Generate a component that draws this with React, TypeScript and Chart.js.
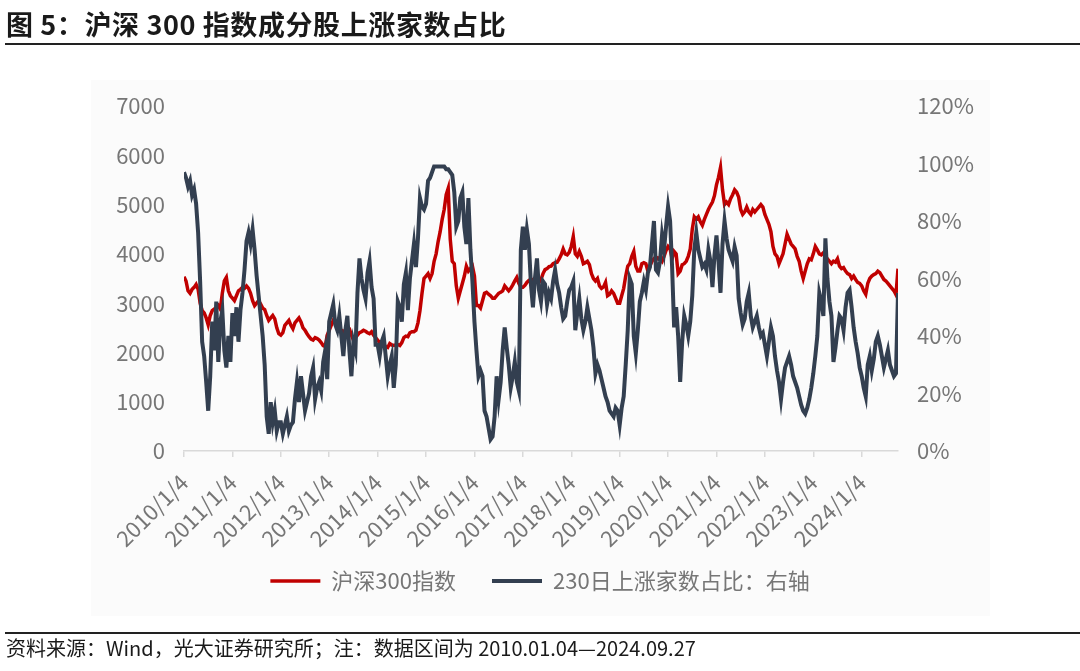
import React, { useEffect, useRef } from 'react';
import { Chart, registerables } from 'chart.js';

Chart.register(...registerables);

// ---- data (semi-monthly readings, 2010/01 → 2024/09) ----
const startYear = 2010;
const periodsPerYear = 24;
const xMax = 2024.75;

const yearTicks = [2010, 2011, 2012, 2013, 2014, 2015, 2016, 2017, 2018, 2019, 2020, 2021, 2022, 2023, 2024];
const xTickLabels = ['2010/1/4', '2011/1/4', '2012/1/4', '2013/1/4', '2014/1/4', '2015/1/4', '2016/1/4', '2017/1/4', '2018/1/4', '2019/1/4', '2020/1/4', '2021/1/4', '2022/1/4', '2023/1/4', '2024/1/4'];
const leftTicks = [0, 1000, 2000, 3000, 4000, 5000, 6000, 7000];
const rightTicks = [0, 20, 40, 60, 80, 100, 120];
const rightTickLabels = ['0%', '20%', '40%', '60%', '80%', '100%', '120%'];

const seriesNames = ['沪深300指数', '230日上涨家数占比：右轴'];

// 沪深300指数 (left axis)
const hs300 = [
  3535, 3450, 3250, 3200, 3280, 3320, 3380, 3280, 3000, 2850, 2800, 2700, 2560, 2750, 2850, 2880, 2900, 2950, 2880, 3200, 3450, 3520, 3250, 3150,
  3100, 3050, 3150, 3250, 3280, 3320, 3300, 3350, 3300, 3200, 3050, 2950, 3000, 3050, 2980, 2900, 2870, 2750, 2650, 2700, 2750, 2680, 2500, 2380,
  2350, 2400, 2550, 2600, 2650, 2550, 2480, 2600, 2650, 2700, 2620, 2500, 2450, 2380, 2320, 2270, 2250, 2300, 2280, 2250, 2200, 2140, 2120, 2350,
  2450, 2550, 2650, 2600, 2550, 2500, 2450, 2420, 2450, 2500, 2480, 2350, 2250, 2300, 2350, 2400, 2420, 2450, 2430, 2400, 2380, 2420, 2350, 2300,
  2250, 2200, 2180, 2150, 2120, 2100, 2180, 2150, 2140, 2150, 2160, 2140, 2200, 2300, 2330, 2320, 2400, 2420, 2420, 2450, 2600, 2850, 3200, 3500,
  3550, 3600, 3500, 3600, 3850, 4000, 4250, 4450, 4700, 4900, 5200, 5330, 4300, 3850, 3800, 3350, 3100, 3250, 3400, 3550, 3750, 3650, 3700, 3750,
  3550, 2950, 2950, 2900, 3050, 3200, 3220, 3180, 3150, 3100, 3100, 3150, 3200, 3220, 3250, 3350, 3300, 3250, 3300, 3370, 3450, 3520, 3400, 3320,
  3320, 3360, 3420, 3460, 3450, 3480, 3500, 3460, 3420, 3480, 3600, 3680, 3700, 3740, 3750, 3800, 3820, 3830, 3900, 3980, 4100, 4000, 3980, 4030,
  4150, 4350, 4000, 3950, 4050, 3950, 3800, 3820, 3850, 3780, 3600, 3500, 3450, 3500, 3350, 3300, 3330, 3420, 3150, 3180, 3250, 3200, 3100, 3000,
  3000, 3150, 3300, 3550, 3750, 3800, 3950, 4050, 3750, 3650, 3650, 3800, 3820, 3800, 3650, 3750, 3850, 3900, 3880, 3920, 3900, 3850, 3950, 4070,
  4150, 4100, 3900, 4050, 4000, 3600, 3650, 3780, 3800, 3850, 3950, 4100, 4500, 4750, 4700, 4750, 4650, 4580, 4700, 4800, 4900, 4980, 5050, 5180,
  5400, 5550, 5750, 5300, 5000, 5050, 5000, 5120, 5200, 5300, 5250, 5150, 4900, 4800, 4850, 4950, 4850, 4800, 4900, 4850, 4900, 4950, 5000, 4950,
  4800, 4700, 4600, 4450, 4150, 4000, 3950, 3800, 3900, 4000, 4200, 4400, 4300, 4200, 4150, 4100, 3950, 3850, 3650, 3500, 3650, 3800, 3900, 3880,
  4000, 4150, 4080, 4000, 3980, 4020, 3950, 3900, 3850, 3800, 3850, 3830, 3900, 3750, 3700, 3720, 3650, 3600, 3580, 3500, 3550, 3480, 3420, 3400,
  3350, 3250, 3180, 3400, 3500, 3550, 3580, 3600, 3650, 3620, 3550, 3480, 3450, 3400, 3350, 3300, 3250, 3170, 3700,
];

// 230日上涨家数占比 (right axis, %)
const upRatio = [
  97, 95, 92, 94, 89, 91, 86, 76, 59, 38, 33, 24, 14, 26, 45, 35, 52, 31, 45, 49, 35, 29, 40, 31,
  48, 40, 50, 38, 49, 55, 63, 73, 76, 72, 77, 70, 61, 54, 47, 40, 30, 12, 6, 17, 10, 14, 7, 10,
  10, 6, 9, 12, 7, 9, 10, 18, 24, 17, 26, 20, 14, 17, 20, 26, 29, 18, 22, 24, 21, 31, 35, 25,
  45, 48, 51, 44, 42, 47, 40, 33, 42, 47, 35, 26, 38, 35, 55, 67, 60, 56, 53, 62, 66, 57, 53, 37,
  37, 33, 38, 40, 33, 26, 30, 33, 22, 30, 52, 50, 45, 58, 62, 49, 60, 66, 72, 64, 74, 88, 85, 84,
  86, 94, 95, 97, 99, 99, 99, 99, 99, 99, 98, 98, 97, 96, 90, 78, 80, 88, 90, 78, 72, 88, 70, 59,
  45, 35, 26, 28, 26, 14, 12, 8, 4, 5, 12, 26, 18, 24, 35, 43, 36, 30, 22, 26, 31, 24, 21, 70,
  78, 70, 77, 72, 58, 50, 60, 67, 56, 52, 59, 58, 51, 55, 53, 59, 63, 58, 55, 50, 46, 47, 52, 56,
  57, 59, 42, 48, 53, 46, 42, 45, 50, 46, 42, 36, 27, 30, 28, 25, 22, 19, 17, 14, 13, 12, 15, 14,
  9, 15, 19, 30, 42, 60, 58, 40, 34, 42, 52, 55, 59, 56, 62, 64, 72, 80, 63, 62, 66, 75, 70, 78,
  85, 80, 64, 43, 50, 40, 24, 38, 47, 44, 40, 45, 54, 70, 76, 70, 67, 64, 65, 63, 70, 66, 57, 68,
  75, 66, 55, 72, 80, 74, 70, 68, 66, 71, 68, 53, 48, 44, 46, 52, 55, 47, 43, 45, 47, 43, 40, 41,
  37, 33, 38, 43, 40, 33, 28, 24, 18, 24, 29, 31, 33, 30, 26, 24, 22, 19, 16, 14, 13, 15, 18, 22,
  27, 33, 40, 55, 52, 47, 74, 60, 52, 47, 31, 36, 42, 47, 46, 42, 50, 55, 56, 50, 43, 38, 34, 29,
  26, 22, 19, 30, 33, 28, 32, 38, 40, 37, 33, 29, 32, 35, 30, 28, 26, 27, 55,
];

const RED = '#C00000';
const NAVY = '#333F50';
const GRAY = '#767676';
const FONT = "'Noto Sans CJK SC', 'Noto Sans', sans-serif";

export default function App() {
  const canvasRef = useRef<HTMLCanvasElement>(null);

  useEffect(() => {
    const canvas = canvasRef.current;
    if (!canvas) return;
    const tickFont = { family: FONT, size: 22 };
    const toPoints = (arr: number[]) => arr.map((v, i) => ({ x: startYear + i / periodsPerYear, y: v }));

    const chart = new Chart(canvas, {
      type: 'line',
      data: {
        datasets: [
          {
            label: seriesNames[0],
            data: toPoints(hs300),
            borderColor: RED,
            backgroundColor: RED,
            borderWidth: 3.5,
            pointRadius: 0,
            pointHoverRadius: 0,
            pointStyle: 'line',
            pointBorderColor: RED,
            pointBorderWidth: 3.5,
            tension: 0,
            yAxisID: 'y',
            order: 1,
          },
          {
            label: seriesNames[1],
            data: toPoints(upRatio),
            borderColor: NAVY,
            backgroundColor: NAVY,
            borderWidth: 4,
            pointRadius: 0,
            pointHoverRadius: 0,
            pointStyle: 'line',
            pointBorderColor: NAVY,
            pointBorderWidth: 4,
            tension: 0,
            yAxisID: 'y1',
            order: 0,
          },
        ],
      },
      options: {
        animation: false,
        responsive: false,
        maintainAspectRatio: false,
        layout: { padding: { top: 106, bottom: 69, left: 0, right: 0 } },
        plugins: {
          legend: {
            position: 'bottom',
            labels: {
              usePointStyle: true,
              pointStyle: 'line',
              pointStyleWidth: 50,
              padding: 36,
              font: tickFont,
              color: GRAY,
              sort: (a: any, b: any) => a.datasetIndex - b.datasetIndex,
            },
          },
          tooltip: { enabled: false },
        },
        scales: {
          x: {
            type: 'linear',
            min: startYear,
            max: xMax,
            afterBuildTicks: (s: any) => {
              s.ticks = yearTicks.map((v) => ({ value: v }));
            },
            afterFit: (s: any) => {
              s.height = 83;
              // let the rotated labels extend past the axis box instead of being clipped
              s._computeLabelArea = () => undefined;
            },
            ticks: {
              autoSkip: false,
              maxRotation: 45,
              minRotation: 45,
              padding: 12,
              font: tickFont,
              color: GRAY,
              callback: (_v: any, i: number) => xTickLabels[i],
            },
            grid: { display: true, drawOnChartArea: false, drawTicks: true, tickLength: 6, color: '#D9D9D9', lineWidth: 1.5 },
            border: { display: true, color: '#D9D9D9', width: 1.5 },
          },
          y: {
            position: 'left',
            min: 0,
            max: 7000,
            afterBuildTicks: (s: any) => {
              s.ticks = leftTicks.map((v) => ({ value: v }));
            },
            afterFit: (s: any) => {
              s.width = 184;
            },
            ticks: { padding: 19, font: tickFont, color: GRAY, callback: (v: any) => String(v) },
            grid: { display: false, drawTicks: false },
            border: { display: false },
          },
          y1: {
            position: 'right',
            min: 0,
            max: 120,
            afterBuildTicks: (s: any) => {
              s.ticks = rightTicks.map((v) => ({ value: v }));
            },
            afterFit: (s: any) => {
              s.width = 182;
            },
            ticks: { padding: 19, font: tickFont, color: GRAY, callback: (_v: any, i: number) => rightTickLabels[i] },
            grid: { display: false, drawTicks: false },
            border: { display: false },
          },
        },
      },
    } as any);

    return () => chart.destroy();
  }, []);

  return (
    <div style={{ position: 'absolute', left: 0, top: 0, width: 1080, height: 671, background: '#ffffff', overflow: 'hidden' }}>
      <div style={{ position: 'absolute', left: 91, top: 80, width: 899, height: 536, background: '#FBFBFB' }} />
      <canvas ref={canvasRef} width={1080} height={671} style={{ position: 'absolute', left: 0, top: 0, width: 1080, height: 671 }} />
      <div
        style={{
          position: 'absolute',
          left: 6,
          top: 10,
          fontFamily: FONT,
          fontWeight: 700,
          fontSize: 27,
          lineHeight: '27px',
          letterSpacing: '0.6px',
          color: '#1a1a1a',
          whiteSpace: 'nowrap',
        }}
      >
        图 5：沪深 300 指数成分股上涨家数占比
      </div>
      <div style={{ position: 'absolute', left: 5, top: 43, width: 1075, height: 2, background: '#222222' }} />
      <div style={{ position: 'absolute', left: 5, top: 632, width: 1075, height: 1.5, background: '#222222' }} />
      <div
        style={{
          position: 'absolute',
          left: 6,
          top: 638,
          fontFamily: FONT,
          fontSize: 20,
          lineHeight: '20px',
          color: '#1a1a1a',
          whiteSpace: 'nowrap',
        }}
      >
        资料来源：Wind，光大证券研究所；注：数据区间为 2010.01.04—2024.09.27
      </div>
    </div>
  );
}
